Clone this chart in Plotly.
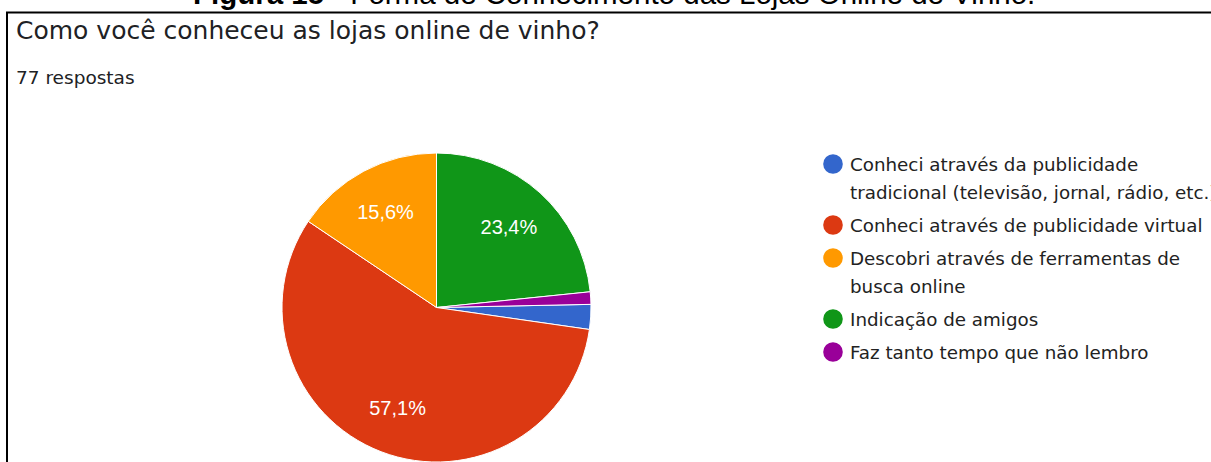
import plotly.graph_objects as go

# ---- data ----
labels = [
    "Conheci através da publicidade tradicional (televisão, jornal, rádio, etc.)",
    "Conheci através de publicidade virtual",
    "Descobri através de ferramentas de busca online",
    "Indicação de amigos",
    "Faz tanto tempo que não lembro",
]
legend_lines = [
    ["Conheci através da publicidade", "tradicional (televisão, jornal, rádio, etc.)"],
    ["Conheci através de publicidade virtual"],
    ["Descobri através de ferramentas de", "busca online"],
    ["Indicação de amigos"],
    ["Faz tanto tempo que não lembro"],
]
counts = [2, 44, 12, 18, 1]
colors = ["#3366cc", "#dc3912", "#ff9900", "#109618", "#990099"]
total_responses = 77
question = "Como você conheceu as lojas online de vinho?"
caption_bold = "Figura 15"
caption_rest = " - Forma de Conhecimento das Lojas Online de Vinho."

W, H = 1211, 462


def px(x):
    return x / W


def py(y):
    return 1 - y / H


# start angle so that the green slice begins at 12 o'clock (Google Forms style)
start_angle = 360.0 * (counts[3] + counts[4]) / sum(counts)
textpos = ["inside" if c / sum(counts) >= 0.05 else "none" for c in counts]
pie_domain = dict(x=[px(282), px(591)], y=[0, py(153)])

fig = go.Figure()
# coloured slices
fig.add_trace(go.Pie(
    labels=labels, values=counts, sort=False, direction="clockwise",
    rotation=start_angle,
    marker=dict(colors=colors, line=dict(color="white", width=1)),
    textinfo="none", domain=pie_domain, showlegend=False,
    hoverinfo="label+value+percent",
))
# transparent ring carrying the percentage labels (places them at ~0.7 r)
fig.add_trace(go.Pie(
    labels=labels, values=counts, sort=False, direction="clockwise",
    rotation=start_angle, hole=0.40,
    marker=dict(colors=["rgba(0,0,0,0)"] * len(counts), line=dict(width=0)),
    texttemplate="%{percent:.1%}", textposition=textpos,
    insidetextorientation="horizontal",
    textfont=dict(family="Liberation Sans", size=20, color="white"),
    domain=pie_domain, showlegend=False, hoverinfo="skip",
))

annotations = []
shapes = []

# caption (cut at top like the reference)
annotations.append(dict(
    x=px(614), y=py(-6.2), xref="paper", yref="paper", xanchor="center", yanchor="middle",
    text="<b>" + caption_bold + "</b>" + caption_rest, showarrow=False,
    font=dict(family="Liberation Sans", size=29.5, color="black"),
))
# question title
annotations.append(dict(
    x=px(14), y=py(30), xref="paper", yref="paper", xanchor="left", yanchor="middle",
    text=question, showarrow=False,
    font=dict(family="DejaVu Sans", size=25, color="#202124"),
))
annotations.append(dict(
    x=px(14), y=py(78), xref="paper", yref="paper", xanchor="left", yanchor="middle",
    text=f"{total_responses} respostas", showarrow=False,
    font=dict(family="DejaVu Sans", size=18.5, color="#202124"),
))

# custom legend
line_y = 164
line_gap = 28
item_gap = 33
for lines, col in zip(legend_lines, colors):
    r = 9.8
    shapes.append(dict(
        type="circle", xref="paper", yref="paper",
        x0=px(833 - r), x1=px(833 + r), y0=py(line_y + r), y1=py(line_y - r),
        fillcolor=col, line=dict(width=0),
    ))
    for i, ln in enumerate(lines):
        if i > 0:
            line_y += line_gap
        annotations.append(dict(
            x=px(848), y=py(line_y), xref="paper", yref="paper",
            xanchor="left", yanchor="middle", text=ln, showarrow=False,
            font=dict(family="DejaVu Sans", size=18.3, color="#222222"),
        ))
    line_y += item_gap

# frame border
shapes.append(dict(
    type="rect", xref="paper", yref="paper",
    x0=px(7), y0=py(12.5), x1=1.05, y1=-0.05,
    line=dict(color="black", width=2), fillcolor="rgba(0,0,0,0)", layer="above",
))

fig.update_layout(
    width=W, height=H,
    margin=dict(l=0, r=0, t=0, b=0),
    paper_bgcolor="white", plot_bgcolor="white",
    separators=",.",
    annotations=annotations,
    shapes=shapes,
    showlegend=False,
)

fig.write_html(
    "out.html",
    config={"displayModeBar": False},
    post_script="document.body.style.margin='0';",
)
